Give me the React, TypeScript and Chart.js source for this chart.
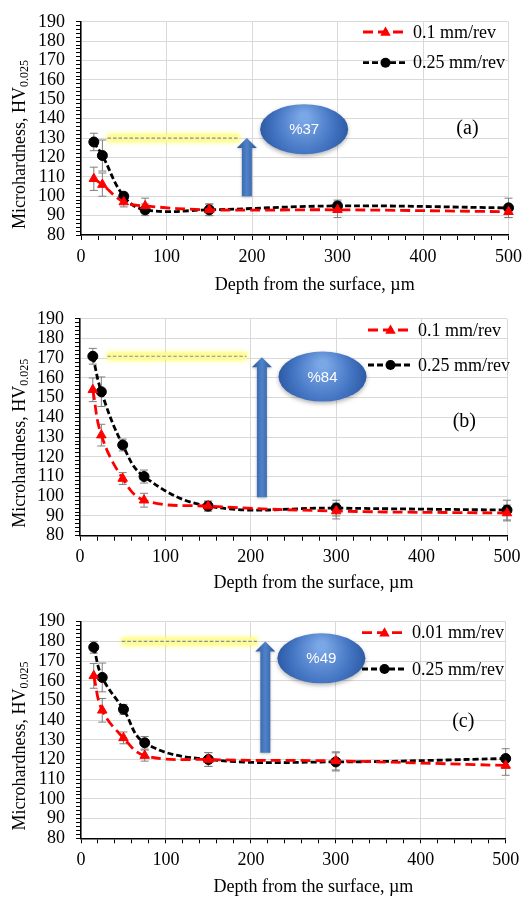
import React, { useEffect, useRef } from 'react';
import { Chart, registerables } from 'chart.js';
Chart.register(...registerables);

// ---------- data ----------
const depths = [15, 25, 50, 75, 150, 300, 500];

const aSlow = [109, 106, 97, 95, 93, 93, 92];
const aSlowErr = [6, 6, 2.5, 4, 3, 4, 3];
const aFast = [128, 121, 100, 93, 93, 95, 94];
const aFastErr = [4.5, 8, 2, 3, 3, 3, 5];

const bSlow = [154, 131, 109, 98, 95, 92.5, 91.5];
const bSlowErr = [6, 5.5, 3, 3.5, 2.5, 4, 4];
const bFast = [171, 153, 126, 110, 95, 94, 93];
const bFastErr = [4, 7.5, 3, 3.3, 2.5, 4, 5];

const cSlow = [162.5, 145, 131, 122, 120, 119.3, 117];
const cSlowErr = [6.3, 6, 3, 2.8, 3.5, 4.6, 5];
const cFast = [177, 161.7, 145.5, 128.5, 120, 118.8, 120.5];
const cFastErr = [3, 7.3, 2.5, 3.2, 3.5, 4.6, 5];

const xMajorTicks = [0, 100, 200, 300, 400, 500];
const yMajorTicks = [80, 90, 100, 110, 120, 130, 140, 150, 160, 170, 180, 190];

const seriesNamesA = ['0.1 mm/rev', '0.25 mm/rev'];
const seriesNamesB = ['0.1 mm/rev', '0.25 mm/rev'];
const seriesNamesC = ['0.01 mm/rev', '0.25 mm/rev'];

const percentLabels = ['%37', '%84', '%49'];
const panelLabels = ['(a)', '(b)', '(c)'];

// annotation anchors in data units
const highlightA = [31, 185, 130];
const highlightB = [32, 195, 171];
const highlightC = [48, 207, 180];
const arrowA = [194, 100, 130];
const arrowB = [213, 99.5, 170.5];
const arrowC = [217, 123.5, 180];
const ellipseA = [261, 134.6];
const ellipseB = [284, 160.7];
const ellipseC = [283, 171.4];
const panelLabelA = [452, 135];
const panelLabelB = [450, 137.6];
const panelLabelC = [450, 139];

const SERIF = 'Liberation Serif';

type PanelCfg = {
  top: number;
  height: number;
  area: { l: number; t: number; r: number; b: number };
  xTitleY: number;
  legendX: number;
  legendRows: number[];
  slow: number[];
  slowErr: number[];
  fast: number[];
  fastErr: number[];
  names: string[];
  highlight: number[];
  arrow: number[];
  ellipse: number[];
  percent: string;
  label: string;
  labelPos: number[];
};

const panels: PanelCfg[] = [
  {
    top: 0, height: 297, area: { l: 81, t: 15.7, r: 510, b: 235 }, xTitleY: 285,
    legendX: 363, legendRows: [32, 62.7],
    slow: aSlow, slowErr: aSlowErr, fast: aFast, fastErr: aFastErr, names: seriesNamesA,
    highlight: highlightA, arrow: arrowA, ellipse: ellipseA, percent: percentLabels[0],
    label: panelLabels[0], labelPos: panelLabelA,
  },
  {
    top: 297, height: 300, area: { l: 80, t: 19.7, r: 507, b: 238.7 }, xTitleY: 286,
    legendX: 368, legendRows: [33, 68],
    slow: bSlow, slowErr: bSlowErr, fast: bFast, fastErr: bFastErr, names: seriesNamesB,
    highlight: highlightB, arrow: arrowB, ellipse: ellipseB, percent: percentLabels[1],
    label: panelLabels[1], labelPos: panelLabelB,
  },
  {
    top: 597, height: 302, area: { l: 81, t: 24.7, r: 505.7, b: 241.3 }, xTitleY: 290,
    legendX: 362, legendRows: [35.7, 72],
    slow: cSlow, slowErr: cSlowErr, fast: cFast, fastErr: cFastErr, names: seriesNamesC,
    highlight: highlightC, arrow: arrowC, ellipse: ellipseC, percent: percentLabels[2],
    label: panelLabels[2], labelPos: panelLabelC,
  },
];

const RED = '#ff0000';
const BLACK = '#000000';
const RED_DASH = [10, 5];
const BLACK_DASH = [6, 3];
const LINE_W = 2.8;

function drawTriangle(ctx: CanvasRenderingContext2D, x: number, y: number, r: number) {
  ctx.beginPath();
  ctx.moveTo(x, y - r);
  ctx.lineTo(x + r * 0.95, y + r * 0.7);
  ctx.lineTo(x - r * 0.95, y + r * 0.7);
  ctx.closePath();
  ctx.fill();
}

function makePlugin(cfg: PanelCfg) {
  return {
    id: 'decor',
    beforeDatasetsDraw(chart: any) {
      const ctx: CanvasRenderingContext2D = chart.ctx;
      const xs = chart.scales.x;
      const ys = chart.scales.y;
      ctx.save();
      ctx.strokeStyle = '#7f7f7f';
      ctx.lineWidth = 1;
      const series = [
        [cfg.slow, cfg.slowErr],
        [cfg.fast, cfg.fastErr],
      ];
      series.forEach(([vals, errs]) => {
        depths.forEach((d, i) => {
          const px = xs.getPixelForValue(d);
          const y0 = ys.getPixelForValue(vals[i] - errs[i]);
          const y1 = ys.getPixelForValue(vals[i] + errs[i]);
          ctx.beginPath();
          ctx.moveTo(px, y0);
          ctx.lineTo(px, y1);
          ctx.moveTo(px - 4, y0);
          ctx.lineTo(px + 4, y0);
          ctx.moveTo(px - 4, y1);
          ctx.lineTo(px + 4, y1);
          ctx.stroke();
        });
      });
      ctx.restore();
    },
    afterDatasetsDraw(chart: any) {
      const ctx: CanvasRenderingContext2D = chart.ctx;
      const xs = chart.scales.x;
      const ys = chart.scales.y;
      const ca = chart.chartArea;

      // yellow highlight line
      {
        const x0 = xs.getPixelForValue(cfg.highlight[0]);
        const x1 = xs.getPixelForValue(cfg.highlight[1]);
        const y = ys.getPixelForValue(cfg.highlight[2]);
        ctx.save();
        ctx.shadowColor = 'rgba(255,255,0,0.9)';
        ctx.shadowBlur = 5;
        ctx.fillStyle = 'rgba(255,250,160,0.85)';
        ctx.fillRect(x0, y - 3.5, x1 - x0, 7);
        ctx.restore();
        ctx.save();
        ctx.strokeStyle = '#7b8eaa';
        ctx.lineWidth = 1.2;
        ctx.setLineDash([3.5, 2]);
        ctx.beginPath();
        ctx.moveTo(x0, y);
        ctx.lineTo(x1, y);
        ctx.stroke();
        ctx.restore();
      }

      // blue arrow
      {
        const x = xs.getPixelForValue(cfg.arrow[0]);
        const yb = ys.getPixelForValue(cfg.arrow[1]);
        const yt = ys.getPixelForValue(cfg.arrow[2]);
        const shaft = 5;
        const head = 10;
        const headH = 10;
        ctx.save();
        const g = ctx.createLinearGradient(x - head, 0, x + head, 0);
        g.addColorStop(0, '#2b5797');
        g.addColorStop(0.5, '#4f82c9');
        g.addColorStop(1, '#2b5797');
        ctx.fillStyle = g;
        ctx.shadowColor = 'rgba(0,0,0,0.25)';
        ctx.shadowBlur = 3;
        ctx.shadowOffsetY = 1;
        ctx.beginPath();
        ctx.moveTo(x - shaft, yb);
        ctx.lineTo(x - shaft, yt + headH);
        ctx.lineTo(x - head, yt + headH);
        ctx.lineTo(x, yt);
        ctx.lineTo(x + head, yt + headH);
        ctx.lineTo(x + shaft, yt + headH);
        ctx.lineTo(x + shaft, yb);
        ctx.closePath();
        ctx.fill();
        ctx.restore();
      }

      // ellipse
      {
        const cx = xs.getPixelForValue(cfg.ellipse[0]);
        const cy = ys.getPixelForValue(cfg.ellipse[1]);
        const rx = 44;
        const ry = 25;
        ctx.save();
        ctx.shadowColor = 'rgba(0,0,0,0.3)';
        ctx.shadowBlur = 4;
        ctx.shadowOffsetY = 2;
        const g = ctx.createRadialGradient(cx, cy - ry * 0.5, 4, cx, cy, rx);
        g.addColorStop(0, '#7aa7e6');
        g.addColorStop(0.6, '#4677c4');
        g.addColorStop(1, '#2c5aa6');
        ctx.fillStyle = g;
        ctx.beginPath();
        ctx.ellipse(cx, cy, rx, ry, 0, 0, Math.PI * 2);
        ctx.fill();
        ctx.restore();
        ctx.save();
        ctx.fillStyle = '#ffffff';
        ctx.font = '15px "Liberation Sans"';
        ctx.textAlign = 'center';
        ctx.textBaseline = 'middle';
        ctx.fillText(cfg.percent, cx, cy + 1);
        ctx.restore();
      }

      // legend entries
      {
        const lx = cfg.legendX;
        const len = 45;
        ctx.save();
        let y = cfg.legendRows[0];
        ctx.strokeStyle = RED;
        ctx.lineWidth = LINE_W;
        ctx.setLineDash(RED_DASH);
        ctx.beginPath();
        ctx.moveTo(lx, y);
        ctx.lineTo(lx + len, y);
        ctx.stroke();
        ctx.setLineDash([]);
        ctx.fillStyle = RED;
        drawTriangle(ctx, lx + len / 2, y, 5.5);
        y = cfg.legendRows[1];
        ctx.strokeStyle = BLACK;
        ctx.setLineDash(BLACK_DASH);
        ctx.beginPath();
        ctx.moveTo(lx, y);
        ctx.lineTo(lx + len, y);
        ctx.stroke();
        ctx.setLineDash([]);
        ctx.fillStyle = BLACK;
        ctx.beginPath();
        ctx.arc(lx + len / 2, y, 5, 0, Math.PI * 2);
        ctx.fill();
        ctx.fillStyle = '#000';
        ctx.font = `18px "${SERIF}"`;
        ctx.textAlign = 'left';
        ctx.textBaseline = 'middle';
        ctx.fillText(cfg.names[0], lx + 50, cfg.legendRows[0] + 1);
        ctx.fillText(cfg.names[1], lx + 50, cfg.legendRows[1] + 1);
        ctx.restore();
      }

      // panel label
      ctx.save();
      ctx.fillStyle = '#000';
      ctx.font = `20px "${SERIF}"`;
      ctx.textAlign = 'center';
      ctx.textBaseline = 'middle';
      ctx.fillText(cfg.label, xs.getPixelForValue(cfg.labelPos[0]), ys.getPixelForValue(cfg.labelPos[1]));
      ctx.restore();

      // x title
      ctx.save();
      ctx.fillStyle = '#000';
      ctx.font = `18px "${SERIF}"`;
      ctx.textAlign = 'center';
      ctx.textBaseline = 'middle';
      ctx.fillText('Depth from the surface, µm', (ca.left + ca.right) / 2 + 20, cfg.xTitleY);
      ctx.restore();

      // y title with subscript
      ctx.save();
      const main = 'Microhardness, HV';
      const sub = '0.025';
      ctx.font = `18px "${SERIF}"`;
      const w1 = ctx.measureText(main).width;
      ctx.font = `12px "${SERIF}"`;
      const w2 = ctx.measureText(sub).width;
      const total = w1 + w2;
      const cy = (ca.top + ca.bottom) / 2 + 16;
      ctx.translate(20, cy);
      ctx.rotate(-Math.PI / 2);
      ctx.fillStyle = '#000';
      ctx.textBaseline = 'middle';
      ctx.textAlign = 'left';
      ctx.font = `18px "${SERIF}"`;
      ctx.fillText(main, -total / 2, 0);
      ctx.font = `12px "${SERIF}"`;
      ctx.fillText(sub, -total / 2 + w1, 5);
      ctx.restore();
    },
  };
}

function Panel({ cfg }: { cfg: PanelCfg }) {
  const ref = useRef<HTMLCanvasElement>(null);
  useEffect(() => {
    if (!ref.current) return;
    const a = cfg.area;
    const chart = new Chart(ref.current, {
      type: 'line',
      data: {
        datasets: [
          {
            label: cfg.names[0],
            data: depths.map((d, i) => ({ x: d, y: cfg.slow[i] })),
            borderColor: RED,
            backgroundColor: RED,
            borderWidth: LINE_W,
            borderDash: RED_DASH,
            tension: 0.4,
            pointStyle: 'triangle',
            pointRadius: 5.5,
            pointBackgroundColor: RED,
            pointBorderColor: RED,
            pointBorderWidth: 1,
            clip: 8,
          },
          {
            label: cfg.names[1],
            data: depths.map((d, i) => ({ x: d, y: cfg.fast[i] })),
            borderColor: BLACK,
            backgroundColor: BLACK,
            borderWidth: LINE_W,
            borderDash: BLACK_DASH,
            tension: 0.4,
            pointStyle: 'circle',
            pointRadius: 5,
            pointBackgroundColor: BLACK,
            pointBorderColor: BLACK,
            pointBorderWidth: 1,
            clip: 8,
          },
        ] as any,
      },
      options: {
        animation: false,
        responsive: false,
        maintainAspectRatio: false,
        layout: { padding: { left: 0, right: 528 - a.r, top: a.t, bottom: 0 } },
        plugins: { legend: { display: false }, tooltip: { enabled: false } },
        scales: {
          x: {
            type: 'linear',
            min: 0,
            max: 500,
            afterFit: (s: any) => { s.height = cfg.height - a.b; },
            border: { color: '#000', width: 1.5 },
            grid: {
              color: (c: any) => (c.tick && xMajorTicks.includes(c.tick.value) ? '#d9d9d9' : 'rgba(0,0,0,0)'),
              tickColor: '#000',
              tickLength: 5,
              lineWidth: 1,
            },
            ticks: {
              stepSize: 20,
              maxTicksLimit: 1000,
              autoSkip: false,
              maxRotation: 0,
              padding: 6,
              color: '#000',
              font: { family: SERIF, size: 18 },
              callback: (v: any) => (xMajorTicks.includes(Number(v)) ? String(v) : ''),
            },
          },
          y: {
            type: 'linear',
            min: 80,
            max: 190,
            afterFit: (s: any) => { s.width = a.l; },
            border: { color: '#000', width: 1.5 },
            grid: {
              color: (c: any) => (c.tick && yMajorTicks.includes(c.tick.value) ? '#d9d9d9' : 'rgba(0,0,0,0)'),
              tickColor: '#000',
              tickLength: 5,
              lineWidth: 1,
            },
            ticks: {
              stepSize: 2,
              maxTicksLimit: 1000,
              autoSkip: false,
              padding: 11,
              color: '#000',
              font: { family: SERIF, size: 18 },
              callback: (v: any) => (yMajorTicks.includes(Number(v)) ? String(v) : ''),
            },
          },
        },
      } as any,
      plugins: [makePlugin(cfg)],
    });
    return () => chart.destroy();
  }, [cfg]);
  return (
    <div style={{ position: 'absolute', left: 0, top: cfg.top, width: 528, height: cfg.height }}>
      <canvas ref={ref} width={528} height={cfg.height} style={{ width: 528, height: cfg.height, display: 'block' }} />
    </div>
  );
}

export default function App() {
  return (
    <div style={{ position: 'absolute', left: 0, top: 0, width: 528, height: 899, background: '#fff' }}>
      {panels.map((p, i) => (
        <Panel key={i} cfg={p} />
      ))}
    </div>
  );
}
